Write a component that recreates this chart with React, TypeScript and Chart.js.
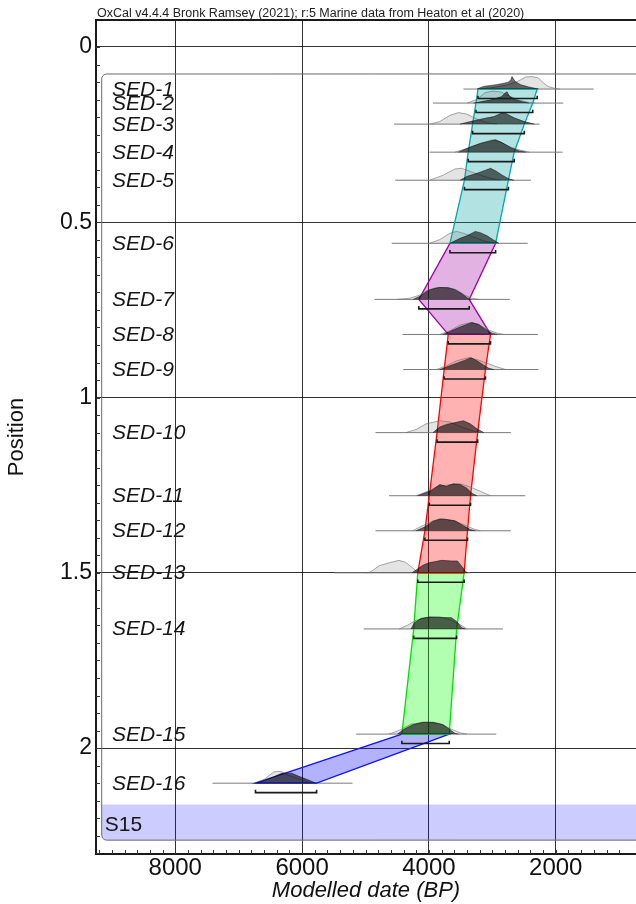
import React, { useEffect, useRef } from "react";
import { Chart, registerables } from "chart.js";

Chart.register(...registerables);

// ---------- text ----------
const TITLE = "OxCal v4.4.4 Bronk Ramsey (2021); r:5 Marine data from Heaton et al (2020)";
const X_LABEL = "Modelled date (BP)";
const Y_LABEL = "Position";
const BOUNDARY_LABEL = "S15";

// ---------- axes ----------
const X_TICKS = [8000, 6000, 4000, 2000];
const Y_TICKS = [0, 0.5, 1, 1.5, 2];

// ---------- samples ----------
const SAMPLE_NAMES = [
  "SED-1", "SED-2", "SED-3", "SED-4", "SED-5", "SED-6", "SED-7", "SED-8",
  "SED-9", "SED-10", "SED-11", "SED-12", "SED-13", "SED-14", "SED-15", "SED-16",
];
const SAMPLE_POSITIONS = [0.12, 0.16, 0.22, 0.3, 0.38, 0.56, 0.72, 0.82, 0.92, 1.1, 1.28, 1.38, 1.5, 1.66, 1.96, 2.1];

// modelled 95.4% range (BP)
const RANGE_OLD = [3227, 3259, 3312, 3381, 3440, 3669, 4160, 3696, 3760, 3872, 3995, 4064, 4176, 4240, 4427, 6735];
const RANGE_YOUNG = [2293, 2363, 2496, 2656, 2747, 2949, 3365, 3029, 3109, 3232, 3344, 3392, 3445, 3563, 3680, 5771];

// plotted extent of each distribution (BP)
const BASELINE_OLD = [3456, 3936, 4549, 3989, 4533, 4587, 4859, 4416, 4405, 4843, 4629, 4843, 5493, 5029, 5147, 7413];
const BASELINE_YOUNG = [1403, 1883, 2256, 1893, 2389, 2443, 2725, 2283, 2272, 2709, 2480, 2709, 3349, 2832, 2939, 5205];

// unmodelled (likelihood) distributions: [date BP, relative probability]
const LIKELIHOODS: number[][][] = [
  [[3200, 0], [2950, 0.15], [2750, 0.35], [2605, 0.6], [2475, 0.96], [2374, 1], [2271, 0.88], [2194, 0.48], [2117, 0.2], [2014, 0.05], [1937, 0]],
  [[3398, 0], [3244, 0.3], [3116, 0.83], [2989, 0.96], [2860, 0.88], [2732, 0.56], [2578, 0.24], [2425, 0.05], [2322, 0]],
  [[3989, 0], [3829, 0.2], [3669, 0.7], [3536, 0.92], [3403, 0.8], [3243, 0.4], [3083, 0.1], [2923, 0]],
  [[3589, 0], [3403, 0.3], [3189, 0.7], [3003, 0.98], [2869, 0.8], [2709, 0.4], [2549, 0.15], [2416, 0]],
  [[3989, 0], [3776, 0.4], [3589, 0.9], [3483, 0.95], [3349, 0.7], [3189, 0.4], [3029, 0.15], [2869, 0]],
  [[3989, 0], [3829, 0.3], [3669, 0.8], [3563, 0.95], [3456, 0.8], [3296, 0.5], [3136, 0.2], [2976, 0]],
  [[4500, 0], [4300, 0.1], [4141, 0.35], [4012, 0.75], [3850, 0.95], [3700, 0.95], [3560, 0.75], [3440, 0.35], [3320, 0.08], [3200, 0]],
  [[3829, 0], [3669, 0.3], [3509, 0.75], [3349, 0.95], [3216, 0.8], [3083, 0.4], [2923, 0.1], [2816, 0]],
  [[3883, 0], [3723, 0.3], [3563, 0.7], [3376, 0.95], [3243, 0.8], [3083, 0.5], [2923, 0.2], [2789, 0]],
  [[4363, 0], [4203, 0.25], [4043, 0.7], [3829, 0.95], [3669, 0.85], [3509, 0.5], [3349, 0.2], [3189, 0]],
  [[4203, 0], [4043, 0.3], [3883, 0.7], [3669, 0.9], [3509, 0.95], [3349, 0.7], [3189, 0.35], [3029, 0]],
  [[4256, 0], [4123, 0.35], [3936, 0.8], [3776, 0.95], [3616, 0.8], [3456, 0.5], [3296, 0.15], [3189, 0]],
  [[5000, 0], [4930, 0.05], [4858, 0.3], [4781, 0.58], [4627, 0.8], [4473, 1], [4372, 0.85], [4269, 0.45], [4192, 0.1], [4150, 0]],
  [[4469, 0], [4336, 0.3], [4203, 0.7], [3989, 0.95], [3829, 0.95], [3669, 0.75], [3509, 0.35], [3403, 0]],
  [[4629, 0], [4469, 0.3], [4283, 0.8], [4043, 0.95], [3829, 0.85], [3669, 0.45], [3509, 0.1], [3403, 0]],
  [[6760, 0], [6600, 0.3], [6447, 0.9], [6380, 0.95], [6318, 0.9], [6200, 0.6], [6050, 0.35], [5900, 0.1], [5800, 0]],
];

// modelled (posterior) distributions: [date BP, relative probability]
const POSTERIORS: number[][][] = [
  [[3244, 0], [3142, 0.21], [2936, 0.35], [2758, 0.53], [2710, 0.7], [2691, 1], [2640, 0.6], [2553, 0.35], [2425, 0.16], [2271, 0]],
  [[3296, 0], [3039, 0.24], [2860, 0.5], [2794, 0.83], [2768, 0.9], [2732, 0.56], [2655, 0.3], [2527, 0.1], [2425, 0]],
  [[3509, 0], [3349, 0.2], [3136, 0.45], [2976, 0.6], [2843, 0.9], [2789, 0.85], [2656, 0.5], [2496, 0.2], [2336, 0]],
  [[3536, 0], [3376, 0.35], [3189, 0.7], [3029, 0.9], [2949, 1], [2843, 0.75], [2709, 0.35], [2576, 0.1], [2469, 0]],
  [[3509, 0], [3403, 0.3], [3243, 0.55], [3109, 0.8], [3029, 0.95], [2949, 0.75], [2843, 0.4], [2736, 0.1], [2656, 0]],
  [[3669, 0], [3509, 0.4], [3403, 0.6], [3269, 0.95], [3189, 0.85], [3083, 0.6], [2976, 0.25], [2896, 0]],
  [[4250, 0], [4141, 0.25], [4012, 0.72], [3900, 0.9], [3834, 0.95], [3700, 0.93], [3600, 0.8], [3480, 0.45], [3390, 0.1], [3340, 0]],
  [[3776, 0], [3643, 0.3], [3509, 0.6], [3403, 0.8], [3323, 0.95], [3216, 0.8], [3109, 0.4], [3003, 0.1], [2923, 0]],
  [[3829, 0], [3669, 0.3], [3536, 0.55], [3429, 0.75], [3339, 0.95], [3243, 0.7], [3136, 0.35], [3056, 0.1], [2976, 0]],
  [[3936, 0], [3829, 0.45], [3723, 0.65], [3589, 0.8], [3456, 0.95], [3349, 0.7], [3243, 0.3], [3136, 0]],
  [[4176, 0], [4043, 0.25], [3936, 0.5], [3829, 0.9], [3723, 0.75], [3616, 0.95], [3509, 0.9], [3403, 0.6], [3323, 0.2], [3243, 0]],
  [[4203, 0], [4069, 0.3], [3936, 0.75], [3829, 0.95], [3723, 0.9], [3589, 0.8], [3456, 0.4], [3349, 0.1], [3269, 0]],
  [[4269, 0], [4180, 0.3], [4100, 0.6], [4000, 0.8], [3900, 0.9], [3800, 1], [3650, 0.95], [3550, 0.95], [3480, 0.5], [3420, 0.1], [3390, 0]],
  [[4283, 0], [4229, 0.5], [4123, 0.85], [3989, 0.95], [3776, 0.92], [3643, 0.9], [3563, 0.6], [3483, 0.1], [3429, 0]],
  [[4496, 0], [4389, 0.4], [4256, 0.75], [4096, 0.95], [3936, 0.95], [3776, 0.75], [3680, 0.4], [3589, 0.05], [3536, 0]],
  [[6739, 0], [6600, 0.2], [6450, 0.5], [6318, 0.8], [6164, 0.8], [6050, 0.55], [5900, 0.25], [5780, 0]],
];

// deposition-model sections (first / last sample index)
const SECTION_FIRST = [0, 5, 7, 12, 14];
const SECTION_LAST = [5, 7, 12, 14, 15];

// ---------- layout / style constants ----------
const X_MIN = 735;
const X_MAX = 9250;
const Y_MIN = -0.077;
const Y_MAX = 2.302;
const BOX_LEFT = 9160;
const BOX_TOP = 0.077;
const BOX_BOTTOM = 2.2625;
const BOUNDARY_TOP = 2.161;
const DIST_HEIGHT = 0.0357;
const BRACKET_OFFSET = 0.027;
const BRACKET_TICK = 0.008;

const SECTION_LINE = ["#00a8a8", "#a000a8", "#ff0000", "#00e000", "#1010ff"];
const SECTION_FILL = [
  "rgba(0,160,160,0.3)",
  "rgba(160,0,160,0.3)",
  "rgba(255,0,0,0.3)",
  "rgba(0,255,0,0.3)",
  "rgba(0,0,255,0.3)",
];
const FONT = "'Liberation Sans', Arial, Helvetica, sans-serif";

function buildDatasets() {
  const ds: any[] = [];
  SAMPLE_NAMES.forEach((_, i) => {
    const p = SAMPLE_POSITIONS[i];
    ds.push({
      data: [{ x: BASELINE_OLD[i], y: p }, { x: BASELINE_YOUNG[i], y: p }],
      borderColor: "#7a7a7a",
      borderWidth: 1,
      fill: false,
      order: 60,
    });
    ds.push({
      data: LIKELIHOODS[i].map(([d, h]) => ({ x: d, y: p - h * DIST_HEIGHT })),
      borderColor: "rgba(110,110,110,0.6)",
      backgroundColor: "rgba(120,120,120,0.2)",
      borderWidth: 1,
      fill: "shape",
      order: 40,
    });
    ds.push({
      data: POSTERIORS[i].map(([d, h]) => ({ x: d, y: p - h * DIST_HEIGHT })),
      borderColor: "rgba(0,0,0,0.6)",
      backgroundColor: "rgba(0,0,0,0.58)",
      borderWidth: 0.8,
      fill: "shape",
      order: 30,
    });
    ds.push({
      data: [
        { x: RANGE_OLD[i], y: p + BRACKET_OFFSET - BRACKET_TICK },
        { x: RANGE_OLD[i], y: p + BRACKET_OFFSET },
        { x: RANGE_YOUNG[i], y: p + BRACKET_OFFSET },
        { x: RANGE_YOUNG[i], y: p + BRACKET_OFFSET - BRACKET_TICK },
      ],
      borderColor: "#1a1a1a",
      borderWidth: 1.6,
      fill: false,
      order: 10,
    });
  });
  SECTION_FIRST.forEach((a, k) => {
    const b = SECTION_LAST[k];
    const pts: { x: number; y: number }[] = [];
    for (let i = a; i <= b; i++) pts.push({ x: RANGE_OLD[i], y: SAMPLE_POSITIONS[i] });
    for (let i = b; i >= a; i--) pts.push({ x: RANGE_YOUNG[i], y: SAMPLE_POSITIONS[i] });
    pts.push({ ...pts[0] });
    ds.push({
      data: pts,
      borderColor: SECTION_LINE[k],
      backgroundColor: SECTION_FILL[k],
      borderWidth: 1.3,
      fill: "shape",
      order: 50,
    });
  });
  return ds;
}

const overlayPlugin = {
  id: "oxcalOverlay",
  beforeDatasetsDraw(chart: any) {
    const { ctx, chartArea: a, scales } = chart;
    const x = scales.x;
    const y = scales.y;
    const l = x.getPixelForValue(BOX_LEFT);
    const t = y.getPixelForValue(BOUNDARY_TOP);
    const b = y.getPixelForValue(BOX_BOTTOM);
    const r = a.right + 10;
    const R = 5;
    ctx.save();
    ctx.fillStyle = "rgba(0,0,255,0.2)";
    ctx.beginPath();
    ctx.moveTo(l, t);
    ctx.lineTo(r, t);
    ctx.lineTo(r, b);
    ctx.lineTo(l + R, b);
    ctx.arcTo(l, b, l, b - R, R);
    ctx.closePath();
    ctx.fill();
    ctx.restore();
  },
  afterDatasetsDraw(chart: any) {
    const { ctx, chartArea: a, scales } = chart;
    const x = scales.x;
    const y = scales.y;
    ctx.save();

    // rounded model box
    const l = x.getPixelForValue(BOX_LEFT);
    const t = y.getPixelForValue(BOX_TOP);
    const b = y.getPixelForValue(BOX_BOTTOM);
    const R = 5;
    ctx.strokeStyle = "#6a6a6a";
    ctx.lineWidth = 1;
    ctx.beginPath();
    ctx.moveTo(a.right + 10, t);
    ctx.lineTo(l + R, t);
    ctx.arcTo(l, t, l, t + R, R);
    ctx.lineTo(l, b - R);
    ctx.arcTo(l, b, l + R, b, R);
    ctx.lineTo(a.right + 10, b);
    ctx.stroke();

    // frame
    ctx.strokeStyle = "#1a1a1a";
    ctx.lineWidth = 2;
    ctx.beginPath();
    ctx.moveTo(a.right + 10, a.top);
    ctx.lineTo(a.left, a.top);
    ctx.lineTo(a.left, a.bottom);
    ctx.lineTo(a.right + 10, a.bottom);
    ctx.stroke();

    // minor ticks (inward)
    ctx.lineWidth = 1;
    ctx.strokeStyle = "#333";
    ctx.beginPath();
    for (let v = 0; v <= Y_MAX; v += 0.05) {
      const py = Math.round(y.getPixelForValue(v)) + 0.5;
      ctx.moveTo(a.left, py);
      ctx.lineTo(a.left + 4, py);
    }
    for (let v = 1000; v <= X_MAX; v += 200) {
      const px = Math.round(x.getPixelForValue(v)) + 0.5;
      ctx.moveTo(px, a.bottom);
      ctx.lineTo(px, a.bottom - 4);
    }
    ctx.stroke();

    // sample labels
    ctx.fillStyle = "#151515";
    ctx.font = `italic 21px ${FONT}`;
    ctx.textAlign = "left";
    ctx.textBaseline = "alphabetic";
    SAMPLE_NAMES.forEach((name, i) => {
      ctx.fillText(name, a.left + 16, y.getPixelForValue(SAMPLE_POSITIONS[i]) + 6.5);
    });

    // boundary label
    ctx.font = `21px ${FONT}`;
    ctx.fillText(BOUNDARY_LABEL, l + 3, b - 9);

    // header
    ctx.font = `12.5px ${FONT}`;
    ctx.fillStyle = "#222";
    ctx.fillText(TITLE, a.left + 1, 17);
    ctx.restore();
  },
};

export default function App() {
  const ref = useRef<HTMLCanvasElement | null>(null);
  useEffect(() => {
    if (!ref.current) return;
    const chart = new Chart(ref.current, {
      type: "line",
      data: { datasets: buildDatasets() },
      options: {
        responsive: false,
        animation: false,
        devicePixelRatio: 1,
        events: [],
        layout: { padding: { top: 20, left: 0, right: -14, bottom: 0 } },
        elements: {
          point: { radius: 0, hoverRadius: 0 },
          line: { tension: 0 },
        },
        plugins: {
          legend: { display: false },
          tooltip: { enabled: false },
        },
        scales: {
          x: {
            type: "linear",
            reverse: true,
            min: X_MIN,
            max: X_MAX,
            afterBuildTicks: (s: any) => {
              s.ticks = X_TICKS.map((v) => ({ value: v }));
            },
            afterFit: (s: any) => {
              s.height = 50;
            },
            grid: { color: "rgba(0,0,0,0.8)", lineWidth: 1, drawTicks: false },
            border: { display: false },
            ticks: {
              callback: (v: any) => String(v),
              font: { family: FONT, size: 24 },
              color: "#111",
              padding: 0,
              maxRotation: 0,
              autoSkip: false,
            },
            title: {
              display: true,
              text: X_LABEL,
              font: { family: FONT, size: 22, style: "italic" },
              color: "#111",
              padding: { top: 0, bottom: 0 },
            },
          },
          y: {
            type: "linear",
            reverse: true,
            min: Y_MIN,
            max: Y_MAX,
            afterBuildTicks: (s: any) => {
              s.ticks = Y_TICKS.map((v) => ({ value: v }));
            },
            afterFit: (s: any) => {
              s.width = 96;
            },
            grid: { color: "rgba(0,0,0,0.8)", lineWidth: 1, drawTicks: false },
            border: { display: false },
            ticks: {
              callback: (v: any) => String(v),
              font: { family: FONT, size: 23 },
              color: "#111",
              padding: 4,
              autoSkip: false,
            },
            title: {
              display: true,
              text: Y_LABEL,
              font: { family: FONT, size: 22 },
              color: "#111",
              padding: { top: 4, bottom: 0 },
            },
          },
        },
      },
      plugins: [overlayPlugin],
    } as any);
    return () => chart.destroy();
  }, []);

  return (
    <div style={{ position: "absolute", left: 0, top: 0, width: 636, height: 904, background: "#fff" }}>
      <canvas ref={ref} width={636} height={904} style={{ display: "block" }} />
    </div>
  );
}
